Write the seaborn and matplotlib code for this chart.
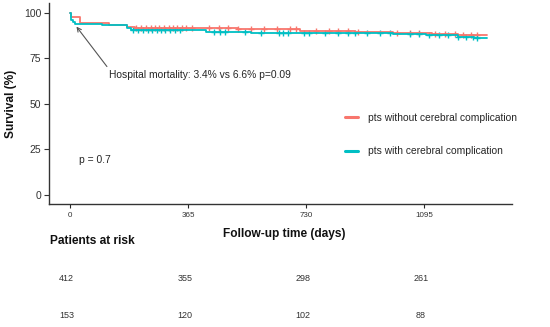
import numpy as np
import pandas as pd
import matplotlib
matplotlib.use("Agg")
import matplotlib.pyplot as plt
import seaborn as sns

# Kaplan-Meier step values
t_without = [0, 3, 30, 120, 175, 200, 400, 520, 710, 880, 1000, 1120, 1200, 1290]
s_without = [100, 97.8, 94.5, 93.5, 92.5, 92, 91.5, 91, 90, 89.5, 89, 88.5, 88, 88]
t_with = [0, 3, 8, 15, 100, 175, 190, 420, 560, 700, 1000, 1100, 1200, 1250, 1290]
s_with = [100, 96, 95, 94, 93.5, 92, 90.5, 89.5, 89, 88.8, 88.5, 88, 87, 86.5, 86.5]

# censoring ticks (days)
c_without = [205, 220, 235, 250, 262, 275, 290, 305, 318, 330, 345, 360, 378, 430, 460, 490,
             520, 560, 600, 640, 680, 700, 760, 800, 830, 860, 890, 1010, 1050, 1080, 1130,
             1160, 1190, 1215, 1240, 1260]
c_with = [195, 210, 225, 240, 255, 268, 280, 295, 310, 325, 340, 445, 465, 480, 540, 590,
          645, 660, 675, 725, 740, 790, 830, 860, 880, 920, 960, 990, 1050, 1080, 1110,
          1140, 1170, 1200, 1225, 1245, 1260]

risk_times = [0, 365, 730, 1095]
risk_without = [412, 355, 298, 261]
risk_with = [153, 120, 102, 88]

labels = ["pts without cerebral complication", "pts with cerebral complication"]
colors = ["#F8766D", "#00BFC4"]

sns.set_style("white")
plt.rcParams["font.family"] = ["Liberation Sans", "DejaVu Sans"]

fig = plt.figure(figsize=(5.5, 3.27), dpi=100)
ax = fig.add_axes([0.089, 0.376, 0.842, 0.615])


def surv_at(times, surv, t):
    idx = np.searchsorted(times, t, side="right") - 1
    return surv[idx]


for t, s, c, lab, col in [(t_without, s_without, c_without, labels[0], colors[0]),
                          (t_with, s_with, c_with, labels[1], colors[1])]:
    df = pd.DataFrame({"time": t, "surv": s})
    sns.lineplot(data=df, x="time", y="surv", drawstyle="steps-post", color=col,
                 linewidth=1.3, label=lab, ax=ax)
    cdf = pd.DataFrame({"time": c, "surv": [surv_at(t, s, x) for x in c]})
    sns.scatterplot(data=cdf, x="time", y="surv", marker="+", color=col, s=25,
                    linewidth=1.0, ax=ax, legend=False)

ax.set_xlim(-65, 1367)
ax.set_ylim(-5, 105.5)
ax.set_xticks(risk_times)
ax.set_xticklabels([str(x) for x in risk_times], fontsize=5.8, color="#333333")
ax.set_yticks([0, 25, 50, 75, 100])
ax.tick_params(axis="y", labelsize=7.5, colors="#333333", length=3.5, left=True, pad=2)
ax.tick_params(axis="x", length=3, bottom=True, pad=3)
ax.set_xlabel("")
ax.set_ylabel("Survival (%)", fontsize=8.6, fontweight="bold", labelpad=5, color="#111111")
for sp in ["top", "right"]:
    ax.spines[sp].set_visible(False)
for sp in ["left", "bottom"]:
    ax.spines[sp].set_color("#333333")
    ax.spines[sp].set_linewidth(1.0)

leg = ax.legend(loc="upper left", bbox_to_anchor=(0.62, 0.50), frameon=False, fontsize=7.4,
                labelspacing=2.3, handlelength=1.2, handletextpad=1.0)
for h in leg.get_lines():
    h.set_linewidth(2.2)

ax.annotate("Hospital mortality: 3.4% vs 6.6% p=0.09", xy=(20, 92.5), xytext=(122, 66),
            fontsize=7.4, va="center",
            arrowprops=dict(arrowstyle="->", color="#555555", lw=0.8,
                            shrinkA=0, shrinkB=0, relpos=(0, 1)))
ax.text(28, 19, "p = 0.7", fontsize=7.4, va="center")

fig.text(0.517, 0.285, "Follow-up time (days)", ha="center", va="center",
         fontsize=8.6, fontweight="bold", color="#111111")
fig.text(0.091, 0.262, "Patients at risk", ha="left", va="center",
         fontsize=8.6, fontweight="bold", color="#111111")

trans = matplotlib.transforms.blended_transform_factory(ax.transData, fig.transFigure)
for x, a, b in zip(risk_times, risk_without, risk_with):
    ax.text(x - 10, 0.147, str(a), transform=trans, ha="center", va="center", fontsize=6.5,
            color="#333333")
    ax.text(x - 10, 0.034, str(b), transform=trans, ha="center", va="center", fontsize=6.5,
            color="#333333")

fig.savefig("out.png", dpi=100)
